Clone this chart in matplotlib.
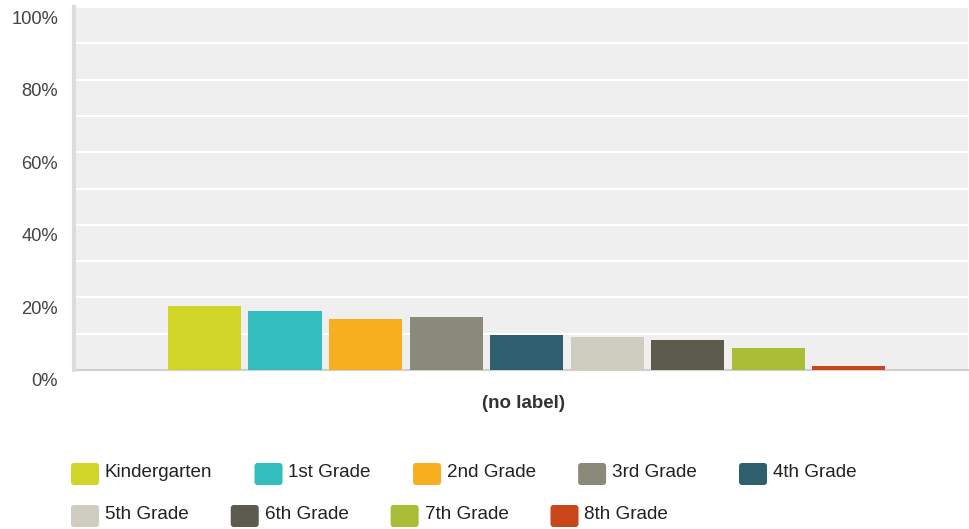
import matplotlib.pyplot as plt
import numpy as np
from matplotlib.patches import FancyBboxPatch
from matplotlib.transforms import IdentityTransform, ScaledTranslation

# data
grades = ['Kindergarten', '1st Grade', '2nd Grade', '3rd Grade', '4th Grade',
          '5th Grade', '6th Grade', '7th Grade', '8th Grade']
shares = [17.6, 16.3, 14.1, 14.6, 9.7, 9.1, 8.3, 6.1, 1.1]
colors = ['#d1d52a', '#33bdbe', '#f7af1f', '#8a8a7a', '#2e5f6e',
          '#cfcdbf', '#5c5b4d', '#a9bd37', '#c9451c']
yticks = [0, 20, 40, 60, 80, 100]
xlabel = '(no label)'

W, H = 969, 529
plt.rcParams['font.family'] = ['Liberation Sans', 'DejaVu Sans']

fig = plt.figure(figsize=(W / 100, H / 100), dpi=100)
ax = fig.add_axes([74 / W, (H - 370) / H, (968 - 74) / W, (370 - 7) / H])
ax.set_facecolor('#efefef')

x = np.arange(len(grades))
ax.bar(x, shares, width=0.907, color=colors, zorder=3)

ax.set_xlim(-1.621, 9.484)
ax.set_ylim(0, 100)
ax.set_yticks(np.arange(0, 101, 10), minor=True)
ax.set_yticks(yticks)
ax.set_yticklabels([f'{v}%' for v in yticks])
ax.grid(axis='y', which='both', color='white', linewidth=1.5, zorder=1)
ax.set_xticks([])
ax.tick_params(axis='y', which='both', length=0, pad=11.5, labelsize=13.2, labelcolor='#444444')
off = ScaledTranslation(0, -10 / 100, fig.dpi_scale_trans)
for lab in ax.get_yticklabels():
    lab.set_transform(lab.get_transform() + off)

for side in ['top', 'right']:
    ax.spines[side].set_visible(False)
ax.spines['left'].set_color('#dcdcdc')
ax.spines['left'].set_linewidth(3)
ax.spines['bottom'].set_color('#d0d0d0')
ax.spines['bottom'].set_linewidth(1.5)
ax.spines['bottom'].set_zorder(2)

fig.text(524 / W, (H - 404) / H, xlabel, ha='center', va='center',
         fontsize=13.5, fontweight='bold', color='#333333')

# flow-layout legend in pixel coordinates
renderer = fig.canvas.get_renderer()
px, row_top = 71, 463
for name, col in zip(grades, colors):
    t = fig.text(0, 0, name, fontsize=13.6, color='#222222', va='baseline',
                 transform=IdentityTransform())
    tw = t.get_window_extent(renderer).width
    if px + 34 + tw > 960:
        px, row_top = 71, row_top + 42
    fig.patches.append(FancyBboxPatch((px, H - row_top - 22), 28, 22,
                                      boxstyle='round,pad=0,rounding_size=3',
                                      facecolor=col, edgecolor='none',
                                      transform=IdentityTransform(), figure=fig))
    t.set_position((px + 34, H - row_top - 14))
    px += 34 + tw + 42

fig.savefig('out.png', dpi=100)
